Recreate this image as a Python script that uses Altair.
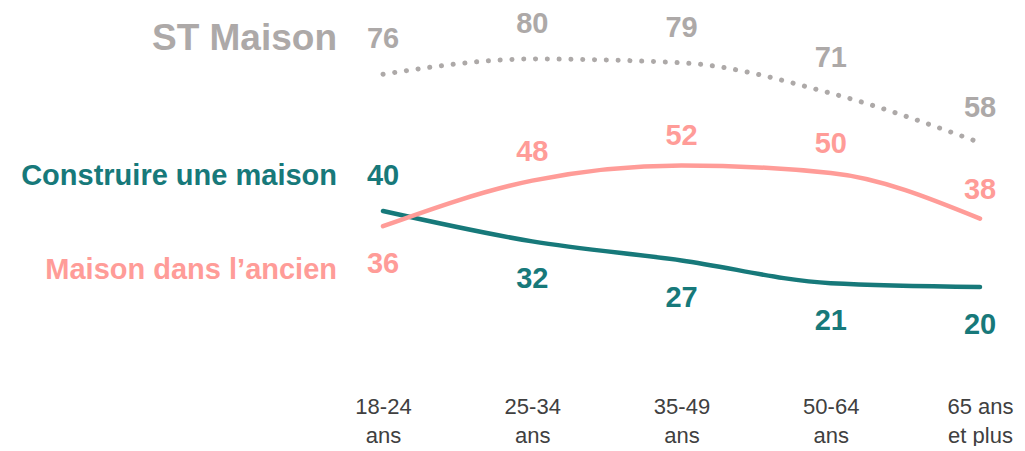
import altair as alt
import pandas as pd

ages = ["18-24\nans", "25-34\nans", "35-49\nans", "50-64\nans", "65 ans\net plus"]
st_maison = [76, 80, 79, 71, 58]
construire = [40, 32, 27, 21, 20]
ancien = [36, 48, 52, 50, 38]
construire_pos = ["above", "below", "below", "below", "below"]
ancien_pos = ["below", "above", "above", "above", "above"]
st_pos = ["above"] * 5

series_names = ["ST Maison", "Construire une maison", "Maison dans l\u2019ancien"]
colors = ["#ADA9A8", "#17797A", "#FF9C98"]

rows = []
for name, vals, pos in zip(series_names, [st_maison, construire, ancien], [st_pos, construire_pos, ancien_pos]):
    for i, (a, v, p) in enumerate(zip(ages, vals, pos)):
        rows.append({"age": a, "serie": name, "value": v, "pos": p, "first": i == 0})
df = pd.DataFrame(rows)

FONT = "Liberation Sans"
xs = alt.X("age:N", sort=ages,
           scale=alt.Scale(type="point", domain=ages, range=[375, 972], padding=0),
           axis=alt.Axis(title=None, domain=False, ticks=False, grid=False, labelAngle=0,
                         labelExpr="split(datum.label, '\\n')", labelFontSize=22,
                         labelFont=FONT, labelColor="#404040",
                         labelLineHeight=29, labelPadding=8))
ys = alt.Y("value:Q", scale=alt.Scale(domain=[0, 80], range=[348, 44]), axis=None)

base = alt.Chart(df)
layers = []
for name, col in zip(series_names, colors):
    sub = base.transform_filter(alt.datum.serie == name)
    if name == "ST Maison":
        line = sub.mark_line(interpolate="monotone", color=col, strokeWidth=5,
                             strokeDash=[0.1, 11.7], strokeCap="round")
    else:
        line = sub.mark_line(interpolate="monotone", color=col, strokeWidth=4.5, strokeCap="round")
    layers.append(line.encode(x=xs, y=ys))

    up_dy = {"ST Maison": -35, "Construire une maison": -35, "Maison dans l\u2019ancien": -29}[name]
    for p, dy in [("above", up_dy), ("below", 38)]:
        t = sub.transform_filter(alt.datum.pos == p).mark_text(
            font=FONT, fontWeight="bold", fontSize=29, color=col, dy=dy, baseline="middle"
        ).encode(x=xs, y=ys, text="value:Q")
        layers.append(t)

    name_dy = {"ST Maison": -35, "Construire une maison": -35, "Maison dans l\u2019ancien": 44}[name]
    name_size = 37 if name == "ST Maison" else 29
    nt = sub.transform_filter(alt.datum.first == True).mark_text(
        font=FONT, fontWeight="bold", fontSize=name_size, color=col, align="right",
        baseline="middle", dy=name_dy
    ).encode(x=alt.value(329), y=ys, text="serie:N")
    layers.append(nt)

chart = alt.layer(*layers).properties(
    width=1009, height=373, autosize=alt.AutoSizeParams(type="none"),
    padding={"left": 0, "top": 7, "right": 0, "bottom": 58}
).configure_view(stroke=None)

chart.save("out.html", embed_options={"renderer": "svg", "actions": False})
